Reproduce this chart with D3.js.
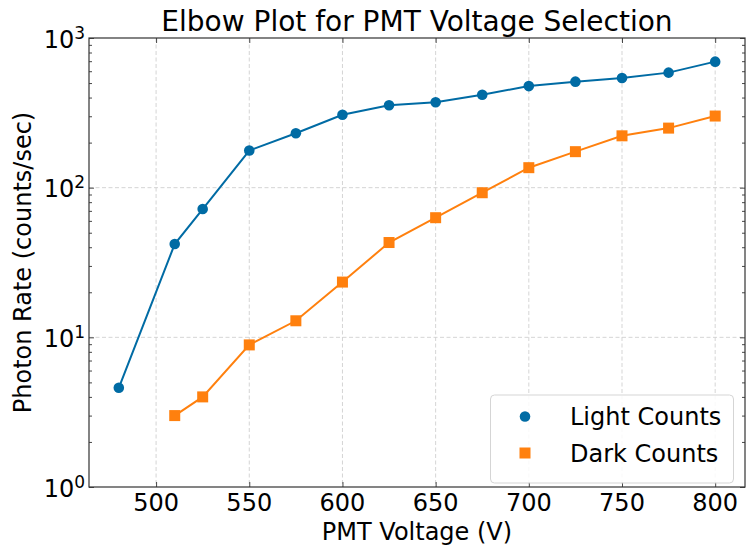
<!DOCTYPE html>
<html>
<head>
<meta charset="utf-8">
<script src="https://cdn.jsdelivr.net/npm/d3@7"></script>
<style>
  body { margin: 0; background: #fff; }
  text { font-family: 'DejaVu Sans', sans-serif; fill: #000; }
</style>
</head>
<body>
<div id="wrapper"></div>
<script>
const voltages = [480, 510, 525, 550, 575, 600, 625, 650, 675, 700, 725, 750, 775, 800];
const lightCounts = [4.6, 42, 72, 177, 231, 307, 355, 372, 418, 477, 511, 541, 587, 695];
const darkVoltages = [510, 525, 550, 575, 600, 625, 650, 675, 700, 725, 750, 775, 800];
const darkCounts = [3.0, 4.0, 8.9, 12.9, 23.4, 43, 63, 92.5, 136, 174, 222, 250, 301];
const xTicks = [500, 550, 600, 650, 700, 750, 800];
const yTicks = [1, 10, 100, 1000];

const width = 746;
const height = 550;
const margin = { top: 38, right: 1, bottom: 63, left: 89 };
const boundedWidth = width - margin.left - margin.right;
const boundedHeight = height - margin.top - margin.bottom;

const blue = '#006BA4';
const orange = '#FF800E';

const svg = d3.select('#wrapper')
  .append('svg')
  .attr('width', width)
  .attr('height', height);

const bounds = svg.append('g')
  .attr('transform', `translate(${margin.left},${margin.top})`);

const xScale = d3.scaleLinear()
  .domain([464, 816])
  .range([0, boundedWidth]);

const yScale = d3.scaleLog()
  .domain([1, 1000])
  .range([boundedHeight, 0]);

// grid
bounds.append('g')
  .selectAll('line')
  .data(xTicks)
  .join('line')
  .attr('x1', d => xScale(d)).attr('x2', d => xScale(d))
  .attr('y1', 0).attr('y2', boundedHeight)
  .attr('stroke', '#d0d0d0')
  .attr('stroke-width', 0.9)
  .attr('stroke-dasharray', '4,2.5');

bounds.append('g')
  .selectAll('line')
  .data(yTicks.slice(1, -1))
  .join('line')
  .attr('x1', 0).attr('x2', boundedWidth)
  .attr('y1', d => yScale(d)).attr('y2', d => yScale(d))
  .attr('stroke', '#d0d0d0')
  .attr('stroke-width', 0.9)
  .attr('stroke-dasharray', '4,2.5');

// inward ticks on all four sides
const minorTicks = [];
for (let e = 0; e < 3; e++) {
  for (let m = 2; m < 10; m++) minorTicks.push(m * Math.pow(10, e));
}

const xAxisBottom = d3.axisBottom(xScale).tickValues(xTicks).tickSizeInner(-5).tickSizeOuter(0).tickFormat('');
const xAxisTop = d3.axisTop(xScale).tickValues(xTicks).tickSizeInner(-5).tickSizeOuter(0).tickFormat('');
const yAxisLeft = d3.axisLeft(yScale).tickValues(yTicks).tickSizeInner(-5).tickSizeOuter(0).tickFormat('');
const yAxisRight = d3.axisRight(yScale).tickValues(yTicks).tickSizeInner(-5).tickSizeOuter(0).tickFormat('');
const yMinorLeft = d3.axisLeft(yScale).tickValues(minorTicks).tickSizeInner(-3).tickSizeOuter(0).tickFormat('');
const yMinorRight = d3.axisRight(yScale).tickValues(minorTicks).tickSizeInner(-3).tickSizeOuter(0).tickFormat('');

bounds.append('g').attr('transform', `translate(0,${boundedHeight})`).call(xAxisBottom);
bounds.append('g').call(xAxisTop);
bounds.append('g').call(yAxisLeft);
bounds.append('g').call(yMinorLeft);
bounds.append('g').attr('transform', `translate(${boundedWidth},0)`).call(yAxisRight);
bounds.append('g').attr('transform', `translate(${boundedWidth},0)`).call(yMinorRight);

bounds.selectAll('.domain').remove();
bounds.selectAll('.tick line').attr('stroke', '#333').attr('stroke-width', 0.9);

// frame
bounds.append('rect')
  .attr('x', 0).attr('y', 0)
  .attr('width', boundedWidth).attr('height', boundedHeight)
  .attr('fill', 'none')
  .attr('stroke', '#333')
  .attr('stroke-width', 1.2);

// tick labels
bounds.append('g')
  .selectAll('text')
  .data(xTicks)
  .join('text')
  .attr('x', d => xScale(d))
  .attr('y', boundedHeight + 24)
  .attr('text-anchor', 'middle')
  .style('font-size', '24px')
  .text(d => d);

const yLabels = bounds.append('g')
  .selectAll('text')
  .data(yTicks)
  .join('text')
  .attr('x', -4)
  .attr('y', d => yScale(d) + 9.5)
  .attr('text-anchor', 'end')
  .style('font-size', '24px');
yLabels.append('tspan').text('10');
yLabels.append('tspan')
  .attr('dy', -9)
  .style('font-size', '17px')
  .text(d => Math.round(Math.log10(d)));

// lines
const lineGen = (xs) => d3.line()
  .x((d, i) => xScale(xs[i]))
  .y(d => yScale(d));

bounds.append('path')
  .datum(lightCounts)
  .attr('d', lineGen(voltages))
  .attr('fill', 'none')
  .attr('stroke', blue)
  .attr('stroke-width', 2);

bounds.append('path')
  .datum(darkCounts)
  .attr('d', lineGen(darkVoltages))
  .attr('fill', 'none')
  .attr('stroke', orange)
  .attr('stroke-width', 2);

bounds.append('g')
  .selectAll('circle')
  .data(lightCounts)
  .join('circle')
  .attr('cx', (d, i) => xScale(voltages[i]))
  .attr('cy', d => yScale(d))
  .attr('r', 5.3)
  .attr('fill', blue);

const sq = 11;
bounds.append('g')
  .selectAll('rect')
  .data(darkCounts)
  .join('rect')
  .attr('x', (d, i) => xScale(darkVoltages[i]) - sq / 2)
  .attr('y', d => yScale(d) - sq / 2)
  .attr('width', sq)
  .attr('height', sq)
  .attr('fill', orange);

// title and axis labels
svg.append('text')
  .attr('x', (margin.left + width - margin.right) / 2)
  .attr('y', 31)
  .attr('text-anchor', 'middle')
  .style('font-size', '28px')
  .text('Elbow Plot for PMT Voltage Selection');

svg.append('text')
  .attr('x', margin.left + boundedWidth / 2)
  .attr('y', 540)
  .attr('text-anchor', 'middle')
  .style('font-size', '24px')
  .text('PMT Voltage (V)');

svg.append('text')
  .attr('transform', `translate(31,${margin.top + boundedHeight / 2}) rotate(-90)`)
  .attr('text-anchor', 'middle')
  .style('font-size', '24px')
  .text('Photon Rate (counts/sec)');

// legend
const legend = svg.append('g').attr('transform', 'translate(490.5,395)');
legend.append('rect')
  .attr('width', 243)
  .attr('height', 88)
  .attr('rx', 4)
  .attr('fill', 'rgba(255,255,255,0.85)')
  .attr('stroke', '#d5d5d5')
  .attr('stroke-width', 1);

const legendItems = [
  { label: 'Light Counts', color: blue, shape: 'circle' },
  { label: 'Dark Counts', color: orange, shape: 'square' },
];

legendItems.forEach((item, i) => {
  const cy = 21.5 + i * 36.5;
  if (item.shape === 'circle') {
    legend.append('circle').attr('cx', 34.5).attr('cy', cy).attr('r', 5.3).attr('fill', item.color);
  } else {
    legend.append('rect').attr('x', 34.5 - 5.5).attr('y', cy - 5.5).attr('width', 11).attr('height', 11).attr('fill', item.color);
  }
  legend.append('text')
    .attr('x', 79.5)
    .attr('y', cy + 8.5)
    .style('font-size', '24px')
    .text(item.label);
});
</script>
</body>
</html>
